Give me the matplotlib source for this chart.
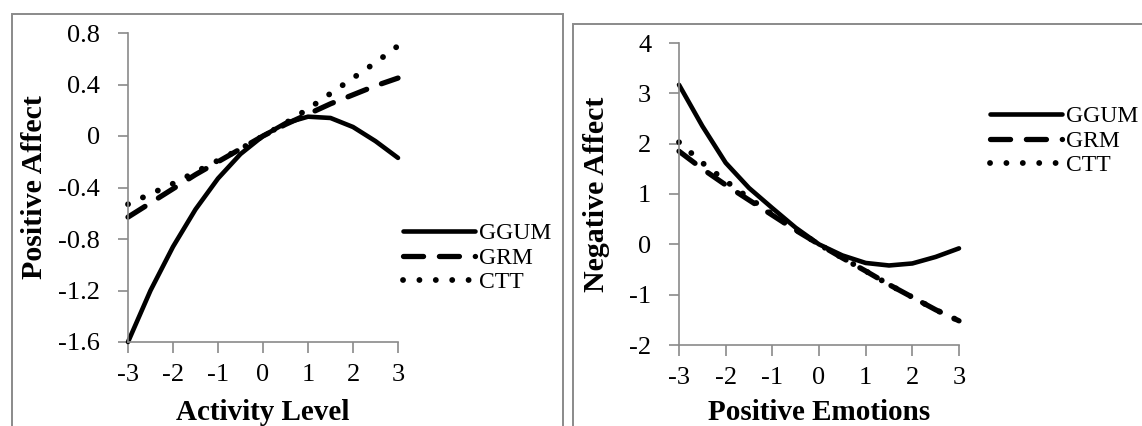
import numpy as np
import matplotlib
matplotlib.use("Agg")
import matplotlib.pyplot as plt
from matplotlib.patches import Rectangle

# valores
theta = [-3, -2.5, -2, -1.5, -1, -0.5, 0, 0.5, 1, 1.5, 2, 2.5, 3]

# panel izquierdo: Activity Level -> Positive Affect
pa_ggum = [-1.60, -1.20, -0.86, -0.57, -0.33, -0.14, 0.0, 0.10, 0.15, 0.14, 0.07, -0.04, -0.17]
pa_grm = [-0.63, -0.52, -0.41, -0.30, -0.20, -0.10, 0.0, 0.09, 0.17, 0.25, 0.32, 0.39, 0.45]
pa_ctt = [-0.53, -0.45, -0.37, -0.28, -0.19, -0.10, 0.0, 0.10, 0.21, 0.33, 0.45, 0.57, 0.70]

# panel derecho: Positive Emotions -> Negative Affect
na_ggum = [3.17, 2.35, 1.62, 1.12, 0.72, 0.33, 0.0, -0.22, -0.37, -0.42, -0.38, -0.25, -0.08]
na_grm = [1.85, 1.50, 1.18, 0.88, 0.58, 0.28, 0.0, -0.27, -0.53, -0.80, -1.05, -1.30, -1.52]
na_ctt = [2.03, 1.62, 1.26, 0.92, 0.60, 0.29, 0.0, -0.27, -0.53, -0.80, -1.05, -1.30, -1.52]

series = ["GGUM", "GRM", "CTT"]

plt.rcParams['font.family'] = ['Liberation Serif', 'DejaVu Serif']
plt.rcParams['axes.unicode_minus'] = False

W, H = 1142, 426
fig = plt.figure(figsize=(W / 100, H / 100), dpi=100)

gray = "#8a8a8a"

# bordes de cada grafico (estilo Excel)
fig.patches.append(Rectangle((12 / W, -0.1), 551 / W, (H - 14) / H + 0.1, transform=fig.transFigure,
                             fill=False, edgecolor=gray, linewidth=1.4))
fig.patches.append(Rectangle((573 / W, -0.1), 0.6, (H - 24) / H + 0.1, transform=fig.transFigure,
                             fill=False, edgecolor=gray, linewidth=1.4))


def draw_panel(rect, ggum, grm, ctt, ylim, yticks, ylabels, xlabel, ylabel, xlabpad, ylabpad, leg_xy):
    ax = fig.add_axes(rect)
    ax.plot(theta, ggum, color="black", lw=3.3, solid_capstyle="round", label=series[0])
    ax.plot(theta, grm, color="black", lw=3.8, dashes=(3.8, 3.0), dash_capstyle="round", label=series[1])
    ax.plot(theta, ctt, color="black", lw=4.2, linestyle=(0, (0.01, 2.8)), dash_capstyle="round",
            label=series[2])
    ax.set_xlim(-3, 3)
    ax.set_ylim(*ylim)
    ax.set_xticks(range(-3, 4))
    ax.set_yticks(yticks)
    ax.set_yticklabels(ylabels)
    for s in ["top", "right"]:
        ax.spines[s].set_visible(False)
    for s in ["left", "bottom"]:
        ax.spines[s].set_color(gray)
        ax.spines[s].set_linewidth(1.2)
    ax.tick_params(axis="y", direction="out", length=7, width=1.2, color=gray, labelsize=19, pad=13)
    ax.tick_params(axis="x", direction="out", length=8, width=1.2, color=gray, labelsize=19, pad=8)
    ax.set_xlabel(xlabel, fontsize=21, fontweight="bold", labelpad=xlabpad)
    ax.set_ylabel(ylabel, fontsize=21.5, fontweight="bold", labelpad=ylabpad)
    for ln in ax.get_lines():
        ln.set_clip_on(False)
    ax.legend(loc="center left", bbox_to_anchor=leg_xy, bbox_transform=fig.transFigure,
              frameon=False, fontsize=17, handlelength=3.05, handletextpad=0.15,
              labelspacing=0.12, borderpad=0, borderaxespad=0)
    return ax


draw_panel([128 / W, (H - 342) / H, 270 / W, 309 / H], pa_ggum, pa_grm, pa_ctt,
           (-1.6, 0.8), [-1.6, -1.2, -0.8, -0.4, 0, 0.4, 0.8],
           ["-1.6", "-1.2", "-0.8", "-0.4", "0", "0.4", "0.8"],
           "Activity Level", "Positive Affect", 9, 7.5, (403 / W, (H - 258) / H))

draw_panel([679 / W, (H - 345) / H, 280 / W, 302 / H], na_ggum, na_grm, na_ctt,
           (-2, 4), [-2, -1, 0, 1, 2, 3, 4],
           ["-2", "-1", "0", "1", "2", "3", "4"],
           "Positive Emotions", "Negative Affect", 7, 13.5, (990 / W, (H - 141) / H))

fig.savefig("out.png", dpi=100)
